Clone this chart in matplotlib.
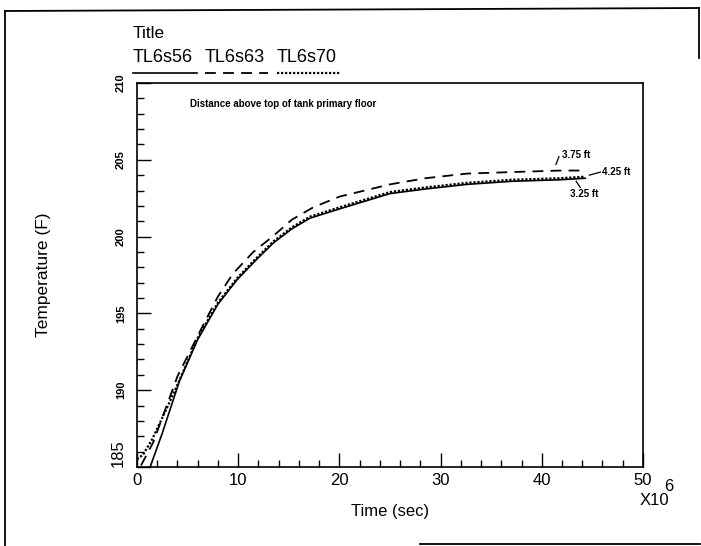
"""
Tank floor temperature history: three thermocouples above the primary floor
"""

import numpy as np
import matplotlib.pyplot as plt
from matplotlib.lines import Line2D
from matplotlib.ticker import MultipleLocator

plt.rcParams['font.family'] = ['Liberation Sans', 'DejaVu Sans']

# ===== DATA =====
series_names = ["TL6s56", "TL6s63", "TL6s70"]

time_56 = [1.3, 2.5, 4.2, 6.0, 8.0, 9.9, 11.8, 13.5, 15.3, 17.1, 20.0, 22.5, 25.0, 28.5, 32.6, 37.0, 41.8, 44.3]
temp_56 = [185.0, 187.2, 190.6, 193.3, 195.6, 197.2, 198.5, 199.6, 200.5, 201.2, 201.8, 202.3, 202.8, 203.1, 203.4, 203.6, 203.7, 203.8]

time_63 = [0.4, 1.6, 4.0, 6.2, 8.0, 9.5, 11.5, 13.4, 15.3, 17.4, 20.0, 22.5, 25.0, 28.5, 32.6, 37.0, 41.8, 44.3]
temp_63 = [185.1, 186.6, 190.9, 193.8, 196.1, 197.6, 199.0, 200.0, 201.1, 201.9, 202.6, 203.0, 203.4, 203.8, 204.1, 204.2, 204.3, 204.3]

time_70 = [0.0, 0.6, 1.5, 3.0, 4.3, 6.0, 8.0, 9.9, 11.8, 13.5, 15.3, 17.1, 20.0, 22.5, 25.0, 28.5, 32.6, 37.0, 41.8, 44.3]
temp_70 = [185.5, 185.8, 186.8, 188.9, 190.8, 193.4, 195.7, 197.3, 198.6, 199.7, 200.6, 201.3, 201.9, 202.4, 202.9, 203.2, 203.5, 203.7, 203.8, 203.9]

line_styles = ["-", (0, (6, 4)), (0, (1, 0.8))]

# curve annotations: (label, text position, leader start, leader end)
annotations = [
    ("3.75 ft", (42.0, 205.3), (41.4, 204.7), (41.7, 205.2)),
    ("4.25 ft", (46.0, 204.2), (44.7, 204.0), (45.8, 204.2)),
    ("3.25 ft", (42.8, 202.8), (43.4, 203.6), (43.8, 203.2)),
]

y_major = [185, 190, 195, 200, 205, 210]
x_major = [0, 10, 20, 30, 40, 50]


def plot_results():
    fig = plt.figure(figsize=(7.01, 5.46), dpi=100)
    ax = fig.add_axes([0.1954, 0.1447, 0.7218, 0.7033])

    all_t = [time_56, time_63, time_70]
    all_y = [temp_56, temp_63, temp_70]
    widths = [1.2, 1.3, 1.6]
    for t, y, ls, lw in zip(all_t, all_y, line_styles, widths):
        ax.plot(t, y, color='black', linestyle=ls, linewidth=lw)

    ax.set_xlim(0, 50)
    ax.set_ylim(185, 210)

    # ticks pointing into the box, 4 minors per major
    ax.xaxis.set_major_locator(MultipleLocator(10))
    ax.xaxis.set_minor_locator(MultipleLocator(2))
    ax.yaxis.set_major_locator(MultipleLocator(5))
    ax.yaxis.set_minor_locator(MultipleLocator(1))
    ax.tick_params(which='both', direction='in', top=False, right=False, width=1.0)
    ax.tick_params(which='major', length=10)
    ax.tick_params(which='minor', length=5)
    ax.set_xticks(x_major)
    ax.set_xticklabels([str(v) for v in x_major], fontsize=12)
    ax.set_yticks(y_major)
    ax.set_yticklabels([str(v) for v in y_major], fontsize=8, rotation=90, va='center', fontweight='bold')
    first = ax.get_yticklabels()[0]
    first.set_fontsize(12)
    first.set_fontweight('normal')
    first.set_va('bottom')
    ax.tick_params(axis='x', pad=4)
    ax.tick_params(axis='y', pad=8)
    for sp in ax.spines.values():
        sp.set_linewidth(1.2)

    ax.set_xlabel('Time (sec)', fontsize=12, labelpad=12)
    ax.set_ylabel('Temperature (F)', fontsize=12.5, labelpad=43)

    # exponent marker under the last x tick
    ax.text(1.022, -0.088, 'X10', transform=ax.transAxes, fontsize=12, ha='center', va='center')
    ax.text(1.05, -0.05, '6', transform=ax.transAxes, fontsize=12, ha='center', va='center')

    ax.text(5.2, 208.6, 'Distance above top of tank primary floor', fontsize=7,
            fontweight='bold', va='center', ha='left')

    for label, txt_pos, p0, p1 in annotations:
        ax.plot([p0[0], p1[0]], [p0[1], p1[1]], color='black', linewidth=0.9)
        ax.text(txt_pos[0], txt_pos[1], label, fontsize=7, fontweight='bold', va='center', ha='left')

    # title and legend above the box
    fig.text(133 / 701, 1 - 33 / 546, 'Title', fontsize=12.5, va='center', ha='left')
    legend_x = [(133, 197), (205, 268), (277, 340)]
    for name, (x0, x1), ls, lw in zip(series_names, legend_x, line_styles, widths):
        fig.text(x0 / 701, 1 - 57 / 546, name, fontsize=13, va='center', ha='left')
        fig.add_artist(Line2D([x0 / 701, x1 / 701], [1 - 73 / 546, 1 - 73 / 546],
                              color='black', linestyle=ls, linewidth=lw))

    # scan page border
    border = dict(color='black', linewidth=1.3)
    fig.add_artist(Line2D([5 / 701, 5 / 701], [0, 1 - 11 / 546], **border))
    fig.add_artist(Line2D([5 / 701, 699 / 701], [1 - 11 / 546, 1 - 8 / 546], **border))
    fig.add_artist(Line2D([699 / 701, 699 / 701], [1 - 8 / 546, 1 - 58 / 546], **border))
    fig.add_artist(Line2D([420 / 701, 700 / 701], [1 - 544 / 546, 1 - 544 / 546], **border))

    fig.savefig('out.png', dpi=100)


if __name__ == "__main__":
    plot_results()
